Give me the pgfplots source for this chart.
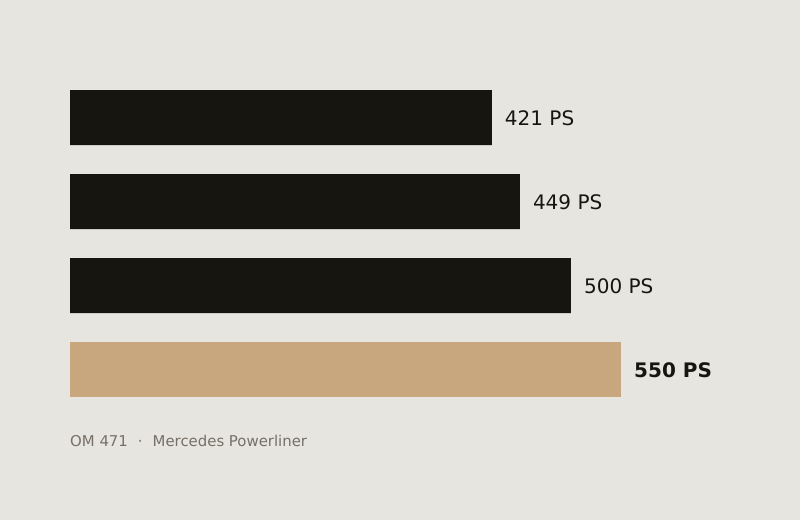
\documentclass[border=0pt]{standalone}
\usepackage{fontspec}
\setmainfont{DejaVu Sans}
\usepackage{pgfplots}
\pgfplotsset{compat=1.18}
\definecolor{bg}{HTML}{E7E5E0}
\definecolor{ink}{HTML}{171510}
\definecolor{tan}{HTML}{C8A77E}
\definecolor{note}{HTML}{767066}
\begin{document}
\begin{tikzpicture}[x=1pt,y=1pt]
\fill[bg] (0,0) rectangle (800,520);
\begin{axis}[
    at={(70pt,108.5pt)}, anchor=south west,
    scale only axis, width=551pt, height=336pt,
    xmin=0, xmax=550, ymin=-0.5, ymax=3.5,
    y dir=reverse, hide axis, clip=false,
    xbar, bar width=55pt, bar shift=0pt,
    point meta=explicit symbolic,
    nodes near coords,
    nodes near coords style={anchor=west, inner sep=0pt, xshift=13pt, yshift=-1pt,
        font=\fontsize{20}{24}\selectfont, text=ink},
]
\addplot[fill=ink, draw=none] coordinates {
    (421,0) [421 PS]
    (449,1) [449 PS]
    (500,2) [500 PS]
};
\addplot[fill=tan, draw=none,
    nodes near coords style={font=\fontsize{20}{24}\selectfont\bfseries}]
    coordinates {(550,3) [550 PS]};
\end{axis}
\node[anchor=base west, inner sep=0pt, text=note, font=\fontsize{14.9}{17}\selectfont]
    at (70,74) {OM 471\hspace{10pt}·\hspace{10pt}Mercedes Powerliner};
\end{tikzpicture}
\end{document}
